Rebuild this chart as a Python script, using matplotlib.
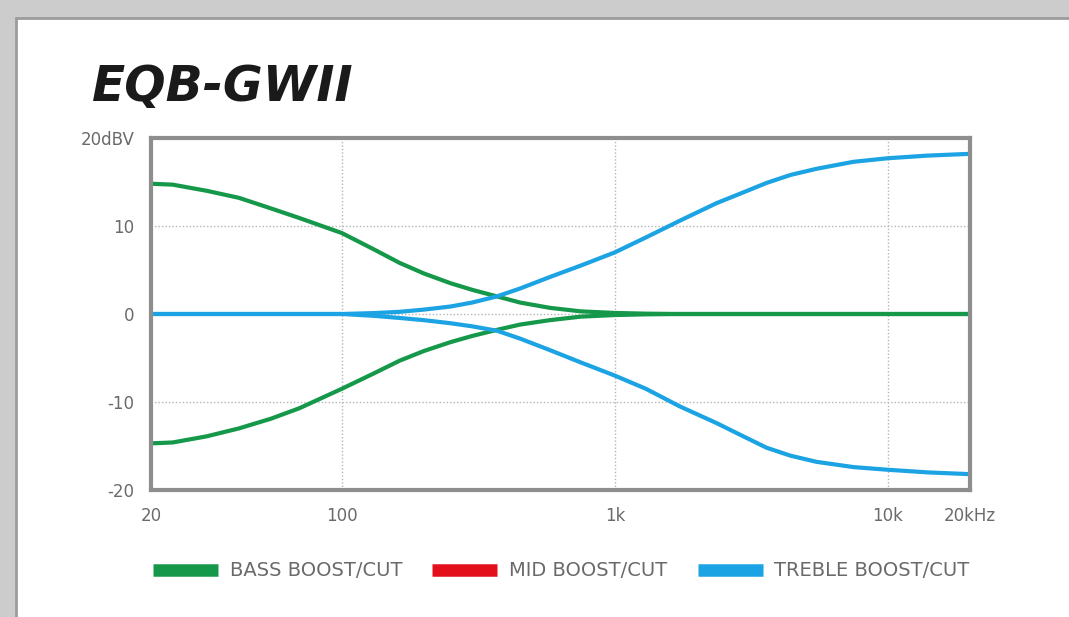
import matplotlib
matplotlib.use("Agg")
import matplotlib.pyplot as plt
from matplotlib.patches import Rectangle
from matplotlib.lines import Line2D

# frequencies (Hz) and responses (dBV)
freq = [20, 24, 32, 42, 55, 70, 100, 130, 163, 200, 250, 300, 370, 450,
        578, 750, 1000, 1300, 1730, 2360, 3000, 3600, 4400, 5480, 7500, 10000, 14000, 20000]
bass_boost = [14.8, 14.7, 14.0, 13.2, 12.0, 10.9, 9.2, 7.4, 5.8, 4.6, 3.5, 2.75, 2.0, 1.3,
              0.7, 0.3, 0.12, 0.04, 0, 0, 0, 0, 0, 0, 0, 0, 0, 0]
bass_cut = [-14.7, -14.6, -13.9, -13.0, -11.9, -10.7, -8.5, -6.8, -5.3, -4.2, -3.2, -2.5, -1.8, -1.2,
            -0.7, -0.3, -0.12, -0.04, 0, 0, 0, 0, 0, 0, 0, 0, 0, 0]
treble_boost = [0, 0, 0, 0, 0, 0, 0, 0.1, 0.25, 0.5, 0.85, 1.3, 2.0, 2.9,
                4.2, 5.5, 7.0, 8.7, 10.6, 12.6, 13.9, 14.9, 15.8, 16.5, 17.3, 17.7, 18.0, 18.2]
treble_cut = [0, 0, 0, 0, 0, 0, 0, -0.2, -0.45, -0.7, -1.05, -1.4, -1.9, -2.8,
              -4.1, -5.5, -7.0, -8.5, -10.5, -12.4, -14.0, -15.2, -16.1, -16.8, -17.4, -17.7, -18.0, -18.2]

xticks = [20, 100, 1000, 10000, 20000]
xlabels = ['20', '100', '1k', '10k', '20kHz']
yticks = [-20, -10, 0, 10, 20]
ylabels = ['-20', '-10', '0', '10', '20dBV']
legend_labels = ['BASS BOOST/CUT', 'MID BOOST/CUT', 'TREBLE BOOST/CUT']

green = '#15984a'
red = '#e3101c'
blue = '#1ba3e3'
grey_txt = '#6a6a6a'

fig = plt.figure(figsize=(10.69, 6.17), dpi=100, facecolor='#cccccc')
fig.add_artist(Rectangle((16 / 1069, -0.05), 1.1, 1.05 - 18 / 617,
                         transform=fig.transFigure, facecolor='white',
                         edgecolor='#9c9c9c', lw=2, zorder=0))

ax = fig.add_axes([151 / 1069, 1 - 490 / 617, 819 / 1069, 352 / 617])
ax.set_xscale('log')
ax.set_xlim(20, 20000)
ax.set_ylim(-20, 20)

ax.plot(freq, bass_boost, color=green, lw=3, solid_capstyle='butt', solid_joinstyle='round')
ax.plot(freq, bass_cut, color=green, lw=3, solid_capstyle='butt', solid_joinstyle='round')
ax.plot(freq, treble_boost, color=blue, lw=3, solid_capstyle='butt', solid_joinstyle='round')
ax.plot(freq, treble_cut, color=blue, lw=3, solid_capstyle='butt', solid_joinstyle='round')

for x in [100, 1000, 10000]:
    ax.axvline(x, color='#b5b5b5', lw=1, ls=(0, (1, 1.5)), zorder=0)
for y in [-10, 0, 10]:
    ax.axhline(y, color='#b5b5b5', lw=1, ls=(0, (1, 1.5)), zorder=0)

ax.set_xticks(xticks)
ax.set_xticklabels(xlabels)
ax.xaxis.set_minor_locator(matplotlib.ticker.NullLocator())
ax.set_yticks(yticks)
ax.set_yticklabels(ylabels)
ax.tick_params(length=0, labelsize=12, labelcolor=grey_txt)
ax.tick_params(axis='x', pad=12)
ax.tick_params(axis='y', pad=12)
for s in ax.spines.values():
    s.set_color('#8e8e8e')
    s.set_linewidth(3)

fig.text(92 / 1069, 1 - 101 / 617, 'EQB-GWII', fontsize=35, fontweight='bold',
         fontstyle='italic', color='#1a1a1a', ha='left', va='baseline')

handles = [Line2D([0], [0], color=c, lw=9, solid_capstyle='butt') for c in [green, red, blue]]
leg = fig.legend(handles, legend_labels, loc='center', bbox_to_anchor=(0.525, 1 - 571 / 617),
                 ncol=3, frameon=False, fontsize=14, handlelength=3.35,
                 handletextpad=0.6, columnspacing=1.55)
for t in leg.get_texts():
    t.set_color(grey_txt)

fig.savefig('out.png', dpi=100, facecolor=fig.get_facecolor())
